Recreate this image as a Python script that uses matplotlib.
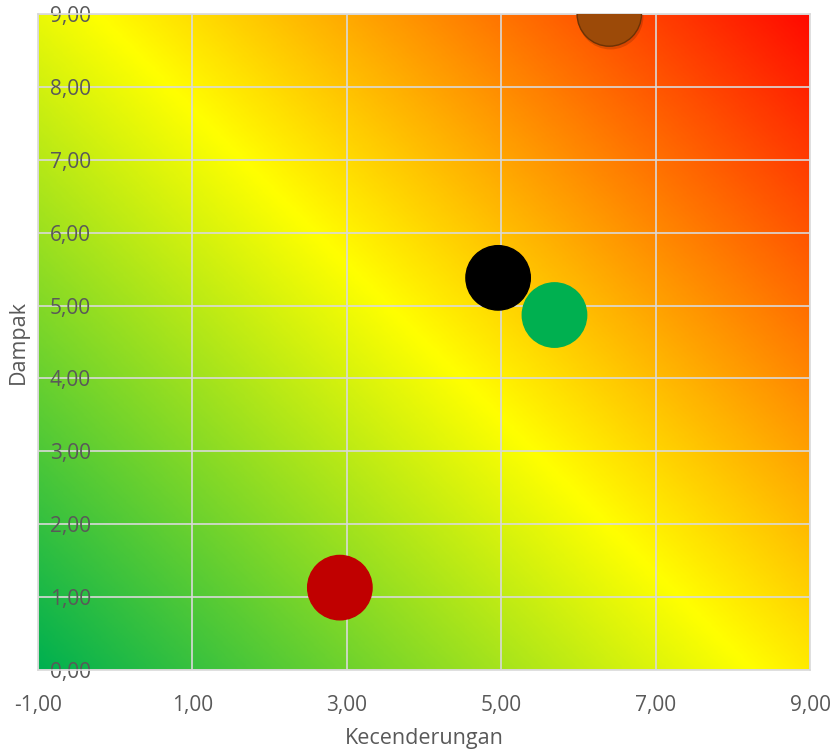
import numpy as np
import matplotlib
matplotlib.use("Agg")
import matplotlib.pyplot as plt
from matplotlib.colors import LinearSegmentedColormap

# Risk items: likelihood (Kecenderungan) vs impact (Dampak)
kecenderungan = [6.40, 4.96, 5.69, 2.91]
dampak = [9.00, 5.38, 4.87, 1.13]
bubble_colors = ["#9c4a08", "#000000", "#00b050", "#c00000"]
edge_colors = ["#6b3205", "#000000", "#00b050", "#c00000"]

x_ticks = [-1, 1, 3, 5, 7, 9]
y_ticks = [0, 1, 2, 3, 4, 5, 6, 7, 8, 9]

plt.rcParams["font.family"] = ["Open Sans", "DejaVu Sans"]
text_color = "#595959"
grid_color = "#d9d9d9"

fig = plt.figure(figsize=(8.31, 7.5), dpi=100)
ax = fig.add_axes([38 / 831, 80 / 750, 772 / 831, 656 / 750])

xmin, xmax = x_ticks[0], x_ticks[-1]
ymin, ymax = y_ticks[0], y_ticks[-1]

# Diagonal heat-map background: green -> yellow -> red
W, H = 772.0, 656.0
u = np.linspace(0, 1, 400)
v = np.linspace(0, 1, 400)
U, V = np.meshgrid(u, v)
T = (U * W + V * H) / (W + H)
cmap = LinearSegmentedColormap.from_list(
    "risk", [(0.0, "#00b050"), (0.5, "#ffff00"), (1.0, "#ff0a00")]
)
ax.imshow(T, cmap=cmap, origin="lower", extent=[xmin, xmax, ymin, ymax],
          aspect="auto", zorder=0, interpolation="bilinear")

# Soft shadow under the brown bubble
ax.scatter([kecenderungan[0] + 0.01], [dampak[0] - 0.03], s=2250,
           color="black", alpha=0.15, linewidths=0, zorder=2)
ax.scatter(kecenderungan, dampak, s=2150, c=bubble_colors,
           edgecolors=edge_colors, linewidths=1.0, zorder=3)

ax.set_xlim(xmin, xmax)
ax.set_ylim(ymin, ymax)
ax.set_xticks(x_ticks)
ax.set_yticks(y_ticks)
ax.set_xticklabels([f"{t:.2f}".replace(".", ",") for t in x_ticks])
ax.set_yticklabels([f"{t:.2f}".replace(".", ",") for t in y_ticks])

ax.set_axisbelow(True)
ax.grid(True, color=grid_color, linewidth=1.2)
for sp in ax.spines.values():
    sp.set_color(grid_color)
    sp.set_linewidth(1.2)

ax.tick_params(axis="x", length=0, pad=18, labelsize=15, colors=text_color)
ax.tick_params(axis="y", length=0, pad=-8.6, labelsize=15, colors=text_color)
for lbl in ax.get_yticklabels():
    lbl.set_horizontalalignment("left")

ax.set_xlabel("Kecenderungan", fontsize=15.5, color=text_color)
ax.set_ylabel("Dampak", fontsize=15.5, color=text_color)
ax.xaxis.set_label_coords(0.5, -0.088)
ax.yaxis.set_label_coords(-0.026, 0.5)
ax.yaxis.label.set_verticalalignment("center")

fig.savefig("out.png", dpi=100)
